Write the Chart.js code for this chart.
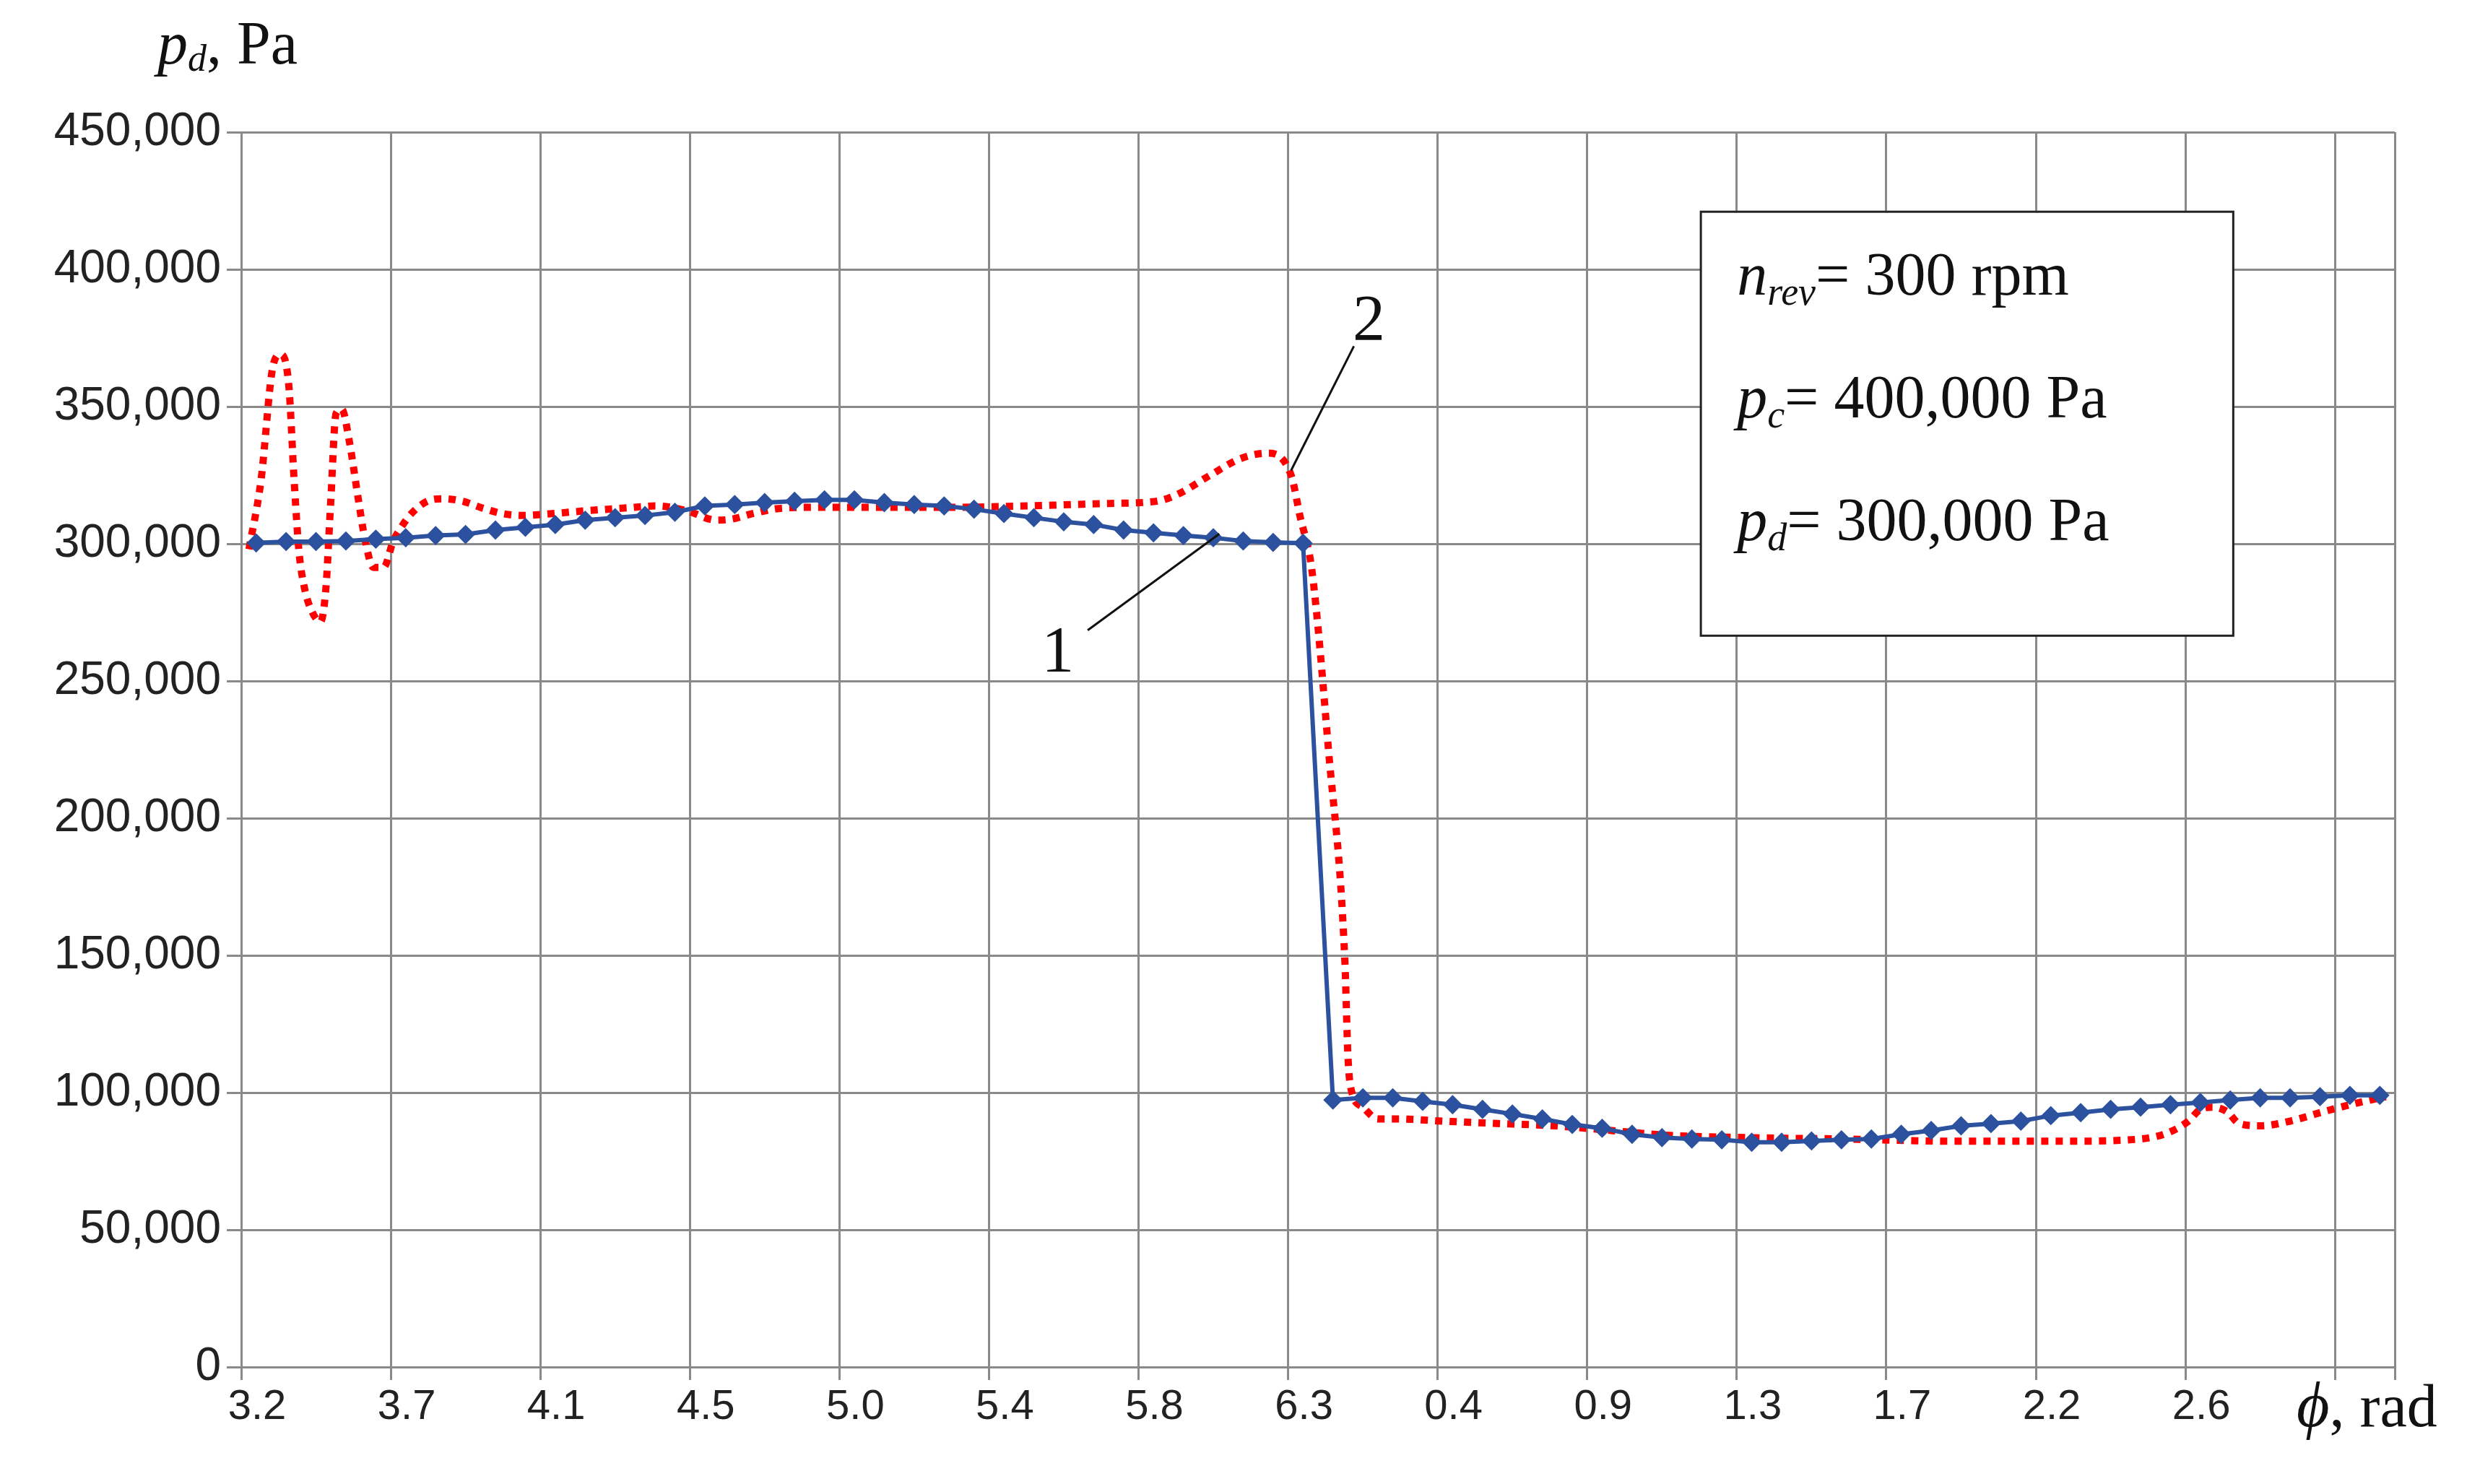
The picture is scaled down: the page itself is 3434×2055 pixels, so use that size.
<!DOCTYPE html>
<html>
<head>
<meta charset="utf-8">
<script src="https://cdn.jsdelivr.net/npm/chart.js@4"></script>
<style>
  html, body { margin: 0; padding: 0; background: #fff; }
  #wrap { width: 3434px; height: 2055px; position: relative; }
</style>
</head>
<body>
<div id="wrap"><canvas id="pdChart" width="3434" height="2055"></canvas></div>
<script>
// ---- data (x in point-index units, 5 deg per step) ----
const xTickLabels = ["3.2", "3.7", "4.1", "4.5", "5.0", "5.4", "5.8", "6.3",
                     "0.4", "0.9", "1.3", "1.7", "2.2", "2.6"];

// curve 1: 72 points, one per step
const curve1 = [
  300300, 300800, 300800, 301000, 301700, 302200, 303000, 303400, 305000, 306000,
  307000, 308600, 309500, 310300, 311500, 313800, 314300, 315000, 315500, 316000,
  316000, 315000, 314300, 313800, 312600, 311000, 309500, 308000, 307000, 305000,
  304000, 303000, 302200, 301000, 300500, 300200,
  97300, 98100, 98100, 96800, 95600, 93900, 92200, 90400, 88400, 87000,
  84800, 83600, 83100, 82800, 81900, 81900, 82400, 82800, 83100, 84800,
  86200, 87900, 88700, 89600, 91600, 92700, 93900, 94700, 95600, 96400,
  97300, 98100, 98100, 98500, 99000, 99000
];

// curve 2 (dotted): irregular samples
const curve2X = [0.26, 0.66, 1.06, 1.32, 1.59, 1.77, 1.93, 2.12, 2.38, 2.65,
  2.83, 2.99, 3.17, 3.36, 3.62, 3.89, 4.15, 4.42, 4.76, 5.08,
  5.29, 5.69, 6.22, 6.75, 7.4, 8.07, 8.73, 9.4, 10.4, 11.5,
  12.8, 13.9, 14.9, 15.9, 16.4, 17.1, 18.1, 19.4, 21, 23.7,
  26.3, 29, 30.6, 31.3, 32.4, 33.4, 34.3, 35.1, 35.4, 35.8,
  36.35, 36.9, 37.0, 37.1, 37.5, 38, 38.65, 40.2, 42.1, 43.9,
  45.8, 47.6, 50.3, 53.5, 57.2, 61.1, 63.5, 64.4, 65.1, 65.5,
  65.9, 66.4, 66.8, 67.5, 68.5, 69.6, 70.7, 71.7];
const curve2Y = [298000, 323000, 364600, 369000, 357800, 323000, 297400, 283600, 275000, 271600,
  283600, 314700, 347400, 349000, 337000, 318000, 300900, 291400, 291400, 300900,
  305000, 311000, 315500, 316400, 315500, 313000, 311000, 310300, 311000, 312000,
  313000, 313800, 312000, 308600, 309000, 311000, 313000, 313300, 313300, 313300,
  313800, 314700, 315500, 318000, 325000, 331000, 333000, 325000, 310000, 290000,
  225000, 147600, 113500, 101500, 94700, 90400, 90400, 89600, 88700, 87900,
  86200, 84500, 83600, 83100, 82300, 82300, 83100, 85300, 89600, 93900,
  94700, 93000, 88700, 87900, 89600, 93000, 96100, 98500];

const BLUE = "#2c519e";
const RED = "#ff0000";
const GRID = "#8a8a8a";

// ---- annotation plugin: text box, curve numbers and axis titles ----
const annotations = {
  id: "annotations",
  afterDraw(chart) {
    const { ctx, scales: { x, y } } = chart;
    ctx.save();
    // text box
    const bx0 = x.getPixelForValue(48.8), bx1 = x.getPixelForValue(66.6);
    const by0 = y.getPixelForValue(421000), by1 = y.getPixelForValue(266500);
    ctx.fillStyle = "#fff";
    ctx.fillRect(bx0, by0, bx1 - bx0, by1 - by0);
    ctx.strokeStyle = "#222";
    ctx.lineWidth = 3;
    ctx.strokeRect(bx0, by0, bx1 - bx0, by1 - by0);

    ctx.fillStyle = "#111";
    ctx.textBaseline = "alphabetic";
    const tx = bx0 + 50;
    function sub(main, subTxt, rest, yy) {
      let cx = tx;
      ctx.font = "italic 84px 'Liberation Serif'";
      ctx.fillText(main, cx, yy); cx += ctx.measureText(main).width;
      ctx.font = "italic 54px 'Liberation Serif'";
      ctx.fillText(subTxt, cx, yy + 14); cx += ctx.measureText(subTxt).width;
      ctx.font = "84px 'Liberation Serif'";
      ctx.fillText(rest, cx, yy);
    }
    sub("n", "rev", "= 300 rpm", by0 + 115);
    sub("p", "c", "= 400,000 Pa", by0 + 285);
    sub("p", "d", "= 300,000 Pa", by0 + 455);

    // curve labels with leader lines
    ctx.strokeStyle = "#111";
    ctx.lineWidth = 3;
    ctx.beginPath();
    ctx.moveTo(x.getPixelForValue(28.3), y.getPixelForValue(268500));
    ctx.lineTo(x.getPixelForValue(32.7), y.getPixelForValue(303600));
    ctx.moveTo(x.getPixelForValue(37.2), y.getPixelForValue(372000));
    ctx.lineTo(x.getPixelForValue(35.1), y.getPixelForValue(326700));
    ctx.stroke();
    ctx.font = "90px 'Liberation Serif'";
    ctx.textAlign = "center";
    ctx.fillText("1", x.getPixelForValue(27.3), y.getPixelForValue(268000) + 55);
    ctx.fillText("2", x.getPixelForValue(37.7), y.getPixelForValue(382000) + 30);

    // axis titles
    ctx.textAlign = "left";
    let cx = 218;
    ctx.font = "italic 84px 'Liberation Serif'";
    ctx.fillText("p", cx, 88); cx += ctx.measureText("p").width;
    ctx.font = "italic 52px 'Liberation Serif'";
    ctx.fillText("d", cx, 98); cx += ctx.measureText("d").width;
    ctx.font = "84px 'Liberation Serif'";
    ctx.fillText(", Pa", cx, 88);

    cx = 3180;
    ctx.font = "italic 88px 'Liberation Serif'";
    ctx.fillText("\u03d5", cx, 1975); cx += ctx.measureText("\u03d5").width;
    ctx.font = "84px 'Liberation Serif'";
    ctx.fillText(", rad", cx, 1975);
    ctx.restore();
  }
};

new Chart(document.getElementById("pdChart"), {
  type: "line",
  data: {
    datasets: [
      {
        label: "1",
        data: curve1.map((v, i) => ({ x: i + 0.5, y: v })),
        borderColor: BLUE,
        backgroundColor: BLUE,
        borderWidth: 6,
        pointStyle: "rectRot",
        pointRadius: 12,
        pointBorderWidth: 2,
        tension: 0
      },
      {
        label: "2",
        data: curve2X.map((v, i) => ({ x: v, y: curve2Y[i] })),
        borderColor: RED,
        borderWidth: 10,
        borderDash: [10, 10],
        pointRadius: 0,
        cubicInterpolationMode: "monotone"
      }
    ]
  },
  options: {
    responsive: false,
    animation: false,
    layout: { padding: { left: 0, top: 183, right: 118, bottom: 62 } },
    plugins: { legend: { display: false }, tooltip: { enabled: false } },
    scales: {
      x: {
        type: "linear",
        min: 0,
        max: 72,
        afterBuildTicks(scale) {
          const t = [];
          for (let v = 0; v <= 70; v += 5) t.push({ value: v });
          t.push({ value: 72 });
          scale.ticks = t;
        },
        afterFit(scale) { scale.height = 100; },
        grid: { color: GRID, lineWidth: 3, tickLength: 18 },
        border: { color: GRID, width: 3 },
        ticks: {
          autoSkip: false,
          maxRotation: 0,
          labelOffset: 22,
          color: "#222",
          font: { family: "Liberation Sans", size: 58 },
          callback: (v) => (v % 5 === 0 && xTickLabels[v / 5]) ? xTickLabels[v / 5] : ""
        }
      },
      y: {
        min: 0,
        max: 450000,
        afterFit(scale) { scale.width = 334; },
        grid: { color: GRID, lineWidth: 3, tickLength: 20 },
        border: { color: GRID, width: 3 },
        ticks: {
          stepSize: 50000,
          color: "#222",
          padding: 8,
          font: { family: "Liberation Sans", size: 64 },
          callback: (v) => v.toLocaleString("en-US")
        }
      }
    }
  },
  plugins: [annotations]
});
</script>
</body>
</html>
